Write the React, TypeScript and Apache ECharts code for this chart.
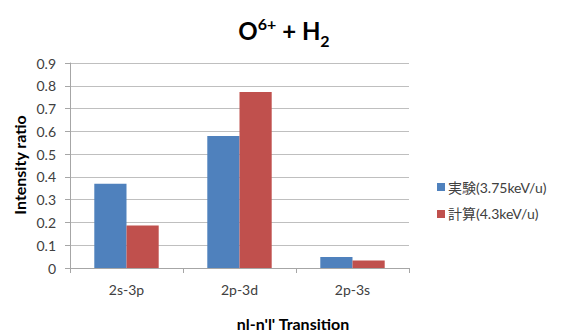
import React, { useEffect, useRef } from "react";
import * as echarts from "echarts";

const categories = ["2s-3p", "2p-3d", "2p-3s"];
const experimentName = "実験(3.75keV/u)";
const calcName = "計算(4.3keV/u)";
const experimentValues = [0.37, 0.58, 0.048];
const calcValues = [0.187, 0.773, 0.033];
const yTicks = { min: 0, max: 0.9, interval: 0.1 };

const FONT = "Lato, 'Noto Sans CJK JP', sans-serif";

export default function App() {
  const ref = useRef<HTMLDivElement>(null);
  useEffect(() => {
    document.body.style.margin = "0";
    if (!ref.current) return;
    const chart = echarts.init(ref.current, null, { renderer: "svg" });
    chart.setOption({
      animation: false,
      textStyle: { fontFamily: FONT },
      title: {
        text: "{b|O}{sup|6+}{b| + H}{sub|2}",
        left: 279,
        top: 10,
        textAlign: "center",
        textStyle: {
          rich: {
            b: { fontSize: 24, fontWeight: "bold", color: "#000", fontFamily: FONT, verticalAlign: "bottom" },
            sup: { fontSize: 16, fontWeight: "bold", color: "#000", fontFamily: FONT, padding: [0, 0, 11, 0], verticalAlign: "bottom" },
            sub: { fontSize: 16, fontWeight: "bold", color: "#000", fontFamily: FONT, padding: [0, 0, -6, 0], verticalAlign: "bottom" },
          },
        },
      },
      legend: {
        orient: "vertical",
        left: 432,
        top: 175,
        itemWidth: 8,
        itemHeight: 8,
        itemGap: 13,
        icon: "rect",
        textStyle: { fontSize: 14, color: "#404040", fontFamily: FONT, padding: [0, 0, 0, -2] },
        data: [experimentName, calcName],
      },
      grid: { left: 70, right: 153, top: 63, bottom: 63 },
      xAxis: {
        type: "category",
        data: categories,
        axisLine: { show: true, lineStyle: { color: "#a6a6a6" } },
        axisTick: { show: true, length: 5, alignWithLabel: false, lineStyle: { color: "#a6a6a6" } },
        axisLabel: { fontSize: 14, color: "#404040", margin: 14 },
      },
      yAxis: {
        type: "value",
        min: yTicks.min,
        max: yTicks.max,
        interval: yTicks.interval,
        axisLine: { show: true, lineStyle: { color: "#a6a6a6" } },
        axisTick: { show: true, length: 5, lineStyle: { color: "#a6a6a6" } },
        axisLabel: { fontSize: 14, color: "#404040", margin: 14 },
        splitLine: { show: true, lineStyle: { color: "#bfbfbf" } },
      },
      graphic: [
        {
          type: "text",
          rotation: Math.PI / 2,
          x: 19,
          y: 165,
          style: {
            text: "Intensity ratio",
            fontSize: 16,
            fontWeight: "bold",
            fill: "#000",
            fontFamily: FONT,
            textAlign: "center",
            textVerticalAlign: "middle",
          },
        },
        {
          type: "text",
          x: 293,
          y: 323,
          style: {
            text: "nl-n'l' Transition",
            fontSize: 16,
            fontWeight: "bold",
            fill: "#000",
            fontFamily: FONT,
            textAlign: "center",
            textVerticalAlign: "middle",
          },
        },
      ],
      series: [
        {
          name: experimentName,
          type: "bar",
          data: experimentValues,
          barCategoryGap: "43%",
          barGap: "0%",
          itemStyle: { color: "#4f81bd" },
        },
        {
          name: calcName,
          type: "bar",
          data: calcValues,
          barCategoryGap: "43%",
          barGap: "0%",
          itemStyle: { color: "#c0504d" },
        },
      ],
    });
    return () => chart.dispose();
  }, []);
  return <div ref={ref} style={{ width: 562, height: 331 }} />;
}
